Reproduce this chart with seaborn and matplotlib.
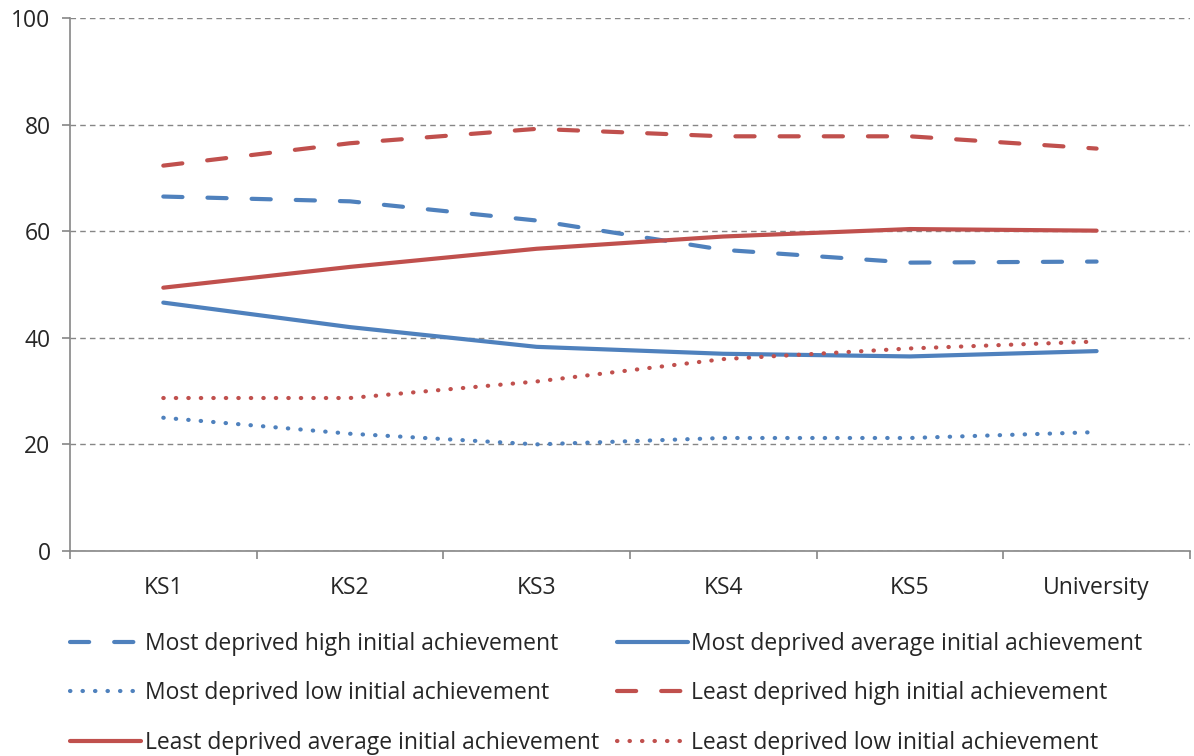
import pandas as pd
import matplotlib.pyplot as plt
import seaborn as sns
from matplotlib.ticker import FixedLocator

stages = ["KS1", "KS2", "KS3", "KS4", "KS5", "University"]

md_high = [66.5, 65.6, 62.0, 56.5, 54.1, 54.3]
md_avg = [46.6, 42.0, 38.3, 37.0, 36.5, 37.5]
md_low = [25.0, 22.0, 20.0, 21.2, 21.2, 22.3]
ld_high = [72.3, 76.5, 79.2, 77.8, 77.8, 75.5]
ld_avg = [49.4, 53.3, 56.7, 59.0, 60.4, 60.1]
ld_low = [28.7, 28.7, 31.8, 36.0, 38.0, 39.3]

BLUE = "#4F81BD"
RED = "#C0504D"
DASH = (4.6, 6.0)
DOT = (0.1, 2.9)

series = [
    ("Most deprived high initial achievement", md_high, BLUE, DASH),
    ("Most deprived average initial achievement", md_avg, BLUE, None),
    ("Most deprived low initial achievement", md_low, BLUE, DOT),
    ("Least deprived high initial achievement", ld_high, RED, DASH),
    ("Least deprived average initial achievement", ld_avg, RED, None),
    ("Least deprived low initial achievement", ld_low, RED, DOT),
]

sns.set_style("white")
plt.rcParams['font.family'] = ['Open Sans', 'DejaVu Sans']
FS = 16.5

fig = plt.figure(figsize=(11.94, 7.56), dpi=100)
ax = fig.add_axes([0.0586, 0.2712, 0.938, 0.705])

handles = {}
for name, vals, color, dash in series:
    df = pd.DataFrame({"stage": stages, "value": vals})
    sns.lineplot(data=df, x="stage", y="value", ax=ax, color=color, lw=3.0,
                 solid_capstyle="round", dash_capstyle="round", sort=False,
                 legend=False)
    line = ax.lines[-1]
    if dash is not None:
        line.set_dashes(dash)
    line.set_label(name)
    handles[name] = line

ax.set_xlim(-0.5, 5.5)
ax.set_ylim(0, 100)
ax.set_yticks([0, 20, 40, 60, 80, 100])
ax.yaxis.grid(True, color="#868686", linestyle=(0, (4, 3)), lw=1.0)
ax.set_axisbelow(True)
ax.set_xlabel("")
ax.set_ylabel("")

ax.xaxis.set_minor_locator(FixedLocator([i - 0.5 for i in range(7)]))
ax.tick_params(axis="x", which="major", length=0, pad=18, labelsize=FS)
ax.tick_params(axis="x", which="minor", length=6, color="#868686", width=1.2, direction="out")
ax.tick_params(axis="y", length=6, color="#868686", width=1.2, direction="out", labelsize=FS, pad=8)
ax.tick_params(axis="x", bottom=True, which="both")
ax.tick_params(axis="y", left=True)

for side in ["top", "right"]:
    ax.spines[side].set_visible(False)
for side in ["left", "bottom"]:
    ax.spines[side].set_color("#868686")
    ax.spines[side].set_linewidth(1.2)

# legend fills columns first, so reorder to read row by row
order = [0, 2, 4, 1, 3, 5]
hs = [handles[series[i][0]] for i in order]
fig.legend(handles=hs, labels=[series[i][0] for i in order], ncol=2,
           loc="upper left", bbox_to_anchor=(0.051, 0.176), frameon=False,
           fontsize=FS, handlelength=3.1, handletextpad=0.15,
           columnspacing=0.8, labelspacing=1.1, borderaxespad=0)

fig.savefig("out.png", dpi=100)
